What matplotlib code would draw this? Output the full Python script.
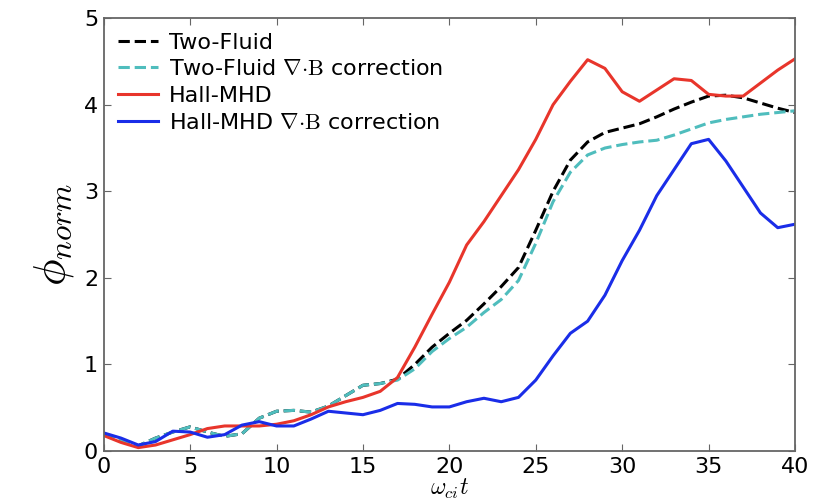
import matplotlib
matplotlib.use('Agg')
import matplotlib.pyplot as plt

plt.rcParams['mathtext.fontset'] = 'cm'

# time axis (omega_ci t)
t = list(range(0, 41))

two_fluid = [0.20, 0.13, 0.06, 0.15, 0.22, 0.28, 0.22, 0.17, 0.20, 0.38,
             0.46, 0.47, 0.45, 0.52, 0.64, 0.76, 0.78, 0.83, 1.00, 1.20,
             1.36, 1.51, 1.70, 1.90, 2.12, 2.55, 3.00, 3.36, 3.57, 3.68,
             3.73, 3.78, 3.86, 3.95, 4.03, 4.10, 4.11, 4.08, 4.02, 3.96, 3.91]

two_fluid_divb = [0.20, 0.13, 0.06, 0.15, 0.22, 0.28, 0.22, 0.17, 0.20, 0.38,
                  0.46, 0.47, 0.45, 0.52, 0.64, 0.76, 0.78, 0.82, 0.95, 1.15,
                  1.30, 1.43, 1.60, 1.75, 1.97, 2.40, 2.88, 3.22, 3.42, 3.50,
                  3.54, 3.57, 3.59, 3.65, 3.72, 3.79, 3.83, 3.86, 3.89, 3.91, 3.93]

hall_mhd = [0.18, 0.10, 0.04, 0.07, 0.13, 0.19, 0.26, 0.29, 0.29, 0.29,
            0.31, 0.35, 0.42, 0.51, 0.57, 0.62, 0.69, 0.85, 1.20, 1.58,
            1.95, 2.38, 2.65, 2.95, 3.25, 3.60, 4.00, 4.27, 4.52, 4.42,
            4.15, 4.04, 4.17, 4.30, 4.28, 4.12, 4.10, 4.10, 4.25, 4.40, 4.53]

hall_mhd_divb = [0.21, 0.15, 0.07, 0.11, 0.23, 0.22, 0.16, 0.19, 0.30, 0.34,
                 0.29, 0.29, 0.37, 0.46, 0.44, 0.42, 0.47, 0.55, 0.54, 0.51,
                 0.51, 0.57, 0.61, 0.57, 0.62, 0.82, 1.10, 1.36, 1.50, 1.80,
                 2.20, 2.55, 2.95, 3.25, 3.55, 3.60, 3.35, 3.05, 2.75, 2.58, 2.62]

fig = plt.figure(figsize=(8.23, 5.04), dpi=100)
ax = fig.add_axes([0.126, 0.105, 0.840, 0.859])

ax.plot(t, two_fluid, '--', color='black', lw=2.2, label='Two-Fluid')
ax.plot(t, two_fluid_divb, '--', color='#4fbdbd', lw=2.2,
        label=r'Two-Fluid $\nabla{\cdot}\mathrm{B}$ correction')
ax.plot(t, hall_mhd, '-', color='#e8352b', lw=2.2, label='Hall-MHD')
ax.plot(t, hall_mhd_divb, '-', color='#1a2de8', lw=2.2,
        label=r'Hall-MHD $\nabla{\cdot}\mathrm{B}$ correction')

ax.set_xlim(0, 40)
ax.set_ylim(0, 5)
ax.set_xticks(range(0, 41, 5))
ax.set_yticks(range(0, 6))

# classic look: inward ticks on every side, grey frame
ax.tick_params(direction='in', top=True, right=True, length=5,
               labelsize=16, color='#666666', pad=4)
for s in ax.spines.values():
    s.set_color('#666666')
    s.set_linewidth(1.3)

ax.set_xlabel(r'$\omega_{ci}t$', fontsize=17, labelpad=0)
ax.set_ylabel(r'$\phi_{norm}$', fontsize=32, labelpad=6)

ax.legend(loc='upper left', frameon=False, fontsize=16,
          handlelength=1.8, handletextpad=0.5, labelspacing=0.3,
          borderaxespad=0.25)

plt.savefig('out.png', dpi=100)
